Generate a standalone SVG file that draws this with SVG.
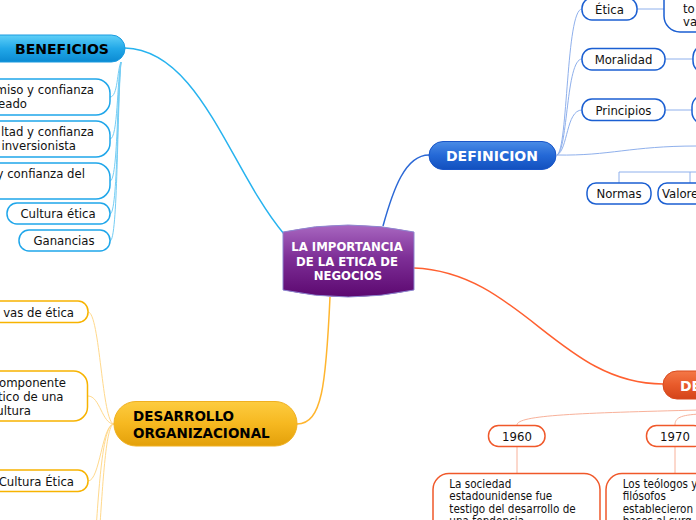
<svg xmlns="http://www.w3.org/2000/svg" width="696" height="520" viewBox="0 0 696 520">
<defs>
<linearGradient id="gC" x1="0" y1="0" x2="0" y2="1"><stop offset="0" stop-color="#a867c0"/><stop offset="0.45" stop-color="#7e2f97"/><stop offset="1" stop-color="#5c0870"/></linearGradient>
<linearGradient id="gB" x1="0" y1="0" x2="0" y2="1"><stop offset="0" stop-color="#5fd0f8"/><stop offset="0.5" stop-color="#22a8e8"/><stop offset="1" stop-color="#0b8ad2"/></linearGradient>
<linearGradient id="gD" x1="0" y1="0" x2="0" y2="1"><stop offset="0" stop-color="#4a8ce6"/><stop offset="0.5" stop-color="#2468d6"/><stop offset="1" stop-color="#1250be"/></linearGradient>
<linearGradient id="gY" x1="0" y1="0" x2="0" y2="1"><stop offset="0" stop-color="#fdcc40"/><stop offset="0.5" stop-color="#f6b820"/><stop offset="1" stop-color="#e3a00a"/></linearGradient>
<linearGradient id="gO" x1="0" y1="0" x2="0" y2="1"><stop offset="0" stop-color="#f47848"/><stop offset="0.5" stop-color="#e85a2a"/><stop offset="1" stop-color="#d4441a"/></linearGradient>
<style>
.t{font-family:"DejaVu Sans Condensed","DejaVu Sans",sans-serif;font-stretch:condensed;fill:#111}
.n{font-size:13px}
.d{font-size:11.6px}
.h{font-family:"DejaVu Sans",sans-serif;font-weight:bold;font-size:14px}
.m{font-size:11.7px}
.c{text-anchor:middle}
.e{text-anchor:end}
.w{fill:#fff}
.k{fill:#000}
.cb{fill:#fff;stroke:#1fa6ea;stroke-width:1.5}
.cd{fill:#fff;stroke:#1b5fd2;stroke-width:1.5}
.cy{fill:#fff;stroke:#f7b300;stroke-width:1.5}
.co{fill:#fff;stroke:#f0582a;stroke-width:1.5}
.lb{fill:none;stroke:#27b3ef;stroke-width:1.5}
.ld{fill:none;stroke:#2b68d6;stroke-width:1.5}
.ly{fill:none;stroke:#ffb52e;stroke-width:1.5}
.lo{fill:none;stroke:#ff6030;stroke-width:1.5}
.sb{fill:none;stroke:#74cdf4;stroke-width:1}
.sd{fill:none;stroke:#8fb0ec;stroke-width:1}
.sy{fill:none;stroke:#ffd98c;stroke-width:1}
.so{fill:none;stroke:#f8b19a;stroke-width:1}
</style>
</defs>
<rect width="696" height="520" fill="#fff"/>
<g id="connectors">
<path class="lb" d="M125,48 C200,50 230,170 284,234"/>
<path class="ld" d="M383,226 C393,190 405,155 429,155"/>
<path class="ly" d="M330,297 C326,385 322,424 297,424"/>
<path class="lo" d="M414,268 C520,272 560,384 663,384"/>
<path class="sb" d="M121,62 C117,70 118,97 110,97"/>
<path class="sb" d="M121,62 C117,80 118,139 110,139"/>
<path class="sb" d="M121,62 C117,90 118,181 110,181"/>
<path class="sb" d="M121,62 C117,100 118,214 110,214"/>
<path class="sb" d="M121,62 C117,110 118,241 110,241"/>
<path class="sd" d="M557,155 C568,150 566,9 582,9"/>
<path class="sd" d="M557,155 C568,150 566,59 582,59"/>
<path class="sd" d="M557,155 C568,150 566,110 582,110"/>
<path class="sd" d="M557,155 C610,156 630,146 697,146"/>
<path class="sd" d="M619,183 V172 H700 M690,172 V183"/>
<path class="sd" d="M637,9 H664 M665,59 H693 M665,110 H692"/>
<path class="sy" d="M114,424 C102,424 100,312 88,312"/>
<path class="sy" d="M114,424 C102,424 100,396 88,396"/>
<path class="sy" d="M114,424 C102,424 100,481 88,481"/>
<path class="sy" d="M114,424 C104,424 100,470 96,530"/>
<path class="sy" d="M114,424 C106,424 103,480 99,540"/>
<path class="so" d="M700,410 C580,413 517,415 517,425"/>
<path class="so" d="M700,414 C680,415 675,418 675,425"/>
<path class="so" d="M517,447 V473 M675,447 V473"/>
</g>
<g id="central">
<path d="M283,232 Q348,218 414,232 L414,290 Q348,304 283,290 Z" fill="url(#gC)" stroke="#8e86d0" stroke-width="1"/>
<text class="h w c m" x="347" y="251">LA IMPORTANCIA</text>
<text class="h w c m" x="347" y="265.5">DE LA ETICA DE</text>
<text class="h w c m" x="348" y="280">NEGOCIOS</text>
</g>
<g id="beneficios">
<rect x="-20" y="35" width="145" height="27" rx="13.5" fill="url(#gB)" stroke="#1a9be0"/>
<text class="h k c" x="62" y="54">BENEFICIOS</text>
</g>
<g id="b1"><rect class="cb" x="-20" y="79" width="130" height="36" rx="14"/><text class="t n e" x="94" y="94">miso y confianza</text><text class="t n e" x="27" y="108">eado</text></g>
<g id="b2"><rect class="cb" x="-20" y="121" width="130" height="36" rx="14"/><text class="t n e" x="94" y="136">ltad y confianza</text><text class="t n e" x="76" y="150">inversionista</text></g>
<g id="b3"><rect class="cb" x="-20" y="163" width="130" height="36" rx="14"/><text class="t n e" x="85" y="178">y confianza del</text></g>
<g id="b4"><rect class="cb" x="7" y="203" width="103" height="21" rx="10"/><text class="t n c" x="58" y="218">Cultura ética</text></g>
<g id="b5"><rect class="cb" x="19" y="230" width="91" height="21" rx="10"/><text class="t n c" x="64" y="245">Ganancias</text></g>
<g id="definicion">
<rect x="429" y="141.5" width="127" height="28" rx="14" fill="url(#gD)" stroke="#1a56c8"/>
<text class="h w c" x="492" y="160.5">DEFINICION</text>
</g>
<g id="d-etica"><rect class="cd" x="582" y="-2" width="55" height="22" rx="10"/><text class="t n c" x="609.5" y="13.5">Ética</text></g>
<g id="d-etica-def"><rect class="cd" x="664" y="-30" width="80" height="62" rx="16"/><text class="t n" x="683" y="13">to</text><text class="t n" x="683" y="26">va</text></g>
<g id="d-moralidad"><rect class="cd" x="582" y="48.5" width="83" height="21.5" rx="10"/><text class="t n c" x="623.5" y="64">Moralidad</text></g>
<g id="d-moralidad-def"><rect class="cd" x="693" y="45" width="60" height="28" rx="12"/></g>
<g id="d-principios"><rect class="cd" x="582" y="99" width="83" height="21.5" rx="10"/><text class="t n c" x="623.5" y="114.5">Principios</text></g>
<g id="d-principios-def"><rect class="cd" x="692" y="95" width="60" height="29" rx="12"/></g>
<g id="d-normas"><rect class="cd" x="587" y="183" width="64" height="21" rx="9"/><text class="t n c" x="619" y="198">Normas</text></g>
<g id="d-valores"><rect class="cd" x="658" y="183" width="64" height="21" rx="9"/><text class="t n" x="662" y="198">Valores</text></g>
<g id="desarrollo">
<rect x="114" y="401.5" width="183" height="44.5" rx="22" fill="url(#gY)" stroke="#f0b020"/>
<text class="h k" style="font-size:13.5px" x="133" y="421">DESARROLLO</text>
<text class="h k" style="font-size:13.5px" x="133" y="438">ORGANIZACIONAL</text>
</g>
<g id="y1"><rect class="cy" x="-20" y="301" width="108" height="21.5" rx="10"/><text class="t n e" x="74" y="316.5">vas de ética</text></g>
<g id="y2"><rect class="cy" x="-20" y="371" width="107.5" height="50" rx="14"/><text class="t n e" x="66" y="386.5">omponente</text><text class="t n e" x="63.5" y="401">tico de una</text><text class="t n e" x="31" y="415">ultura</text></g>
<g id="y3"><rect class="cy" x="-20" y="470" width="108" height="21.5" rx="10"/><text class="t n e" x="74" y="485.5">Cultura Ética</text></g>
<g id="desarrollo-hist">
<rect x="663" y="371" width="80" height="28" rx="14" fill="url(#gO)" stroke="#d84a1e"/>
<text class="h w" x="680" y="390.5">DE</text>
</g>
<g id="o1960"><rect class="co" x="488.5" y="425.5" width="56.5" height="21" rx="10"/><text class="t n c" x="517" y="441">1960</text></g>
<g id="o1970"><rect class="co" x="646.5" y="425.5" width="57" height="21" rx="10"/><text class="t n c" x="675" y="441">1970</text></g>
<g id="o1960-desc"><rect class="co" x="433" y="473.5" width="167" height="70" rx="16"/>
<text class="t d" x="449.3" y="487.7">La sociedad</text><text class="t d" x="449.3" y="500.3">estadounidense fue</text><text class="t d" x="449.3" y="512.7">testigo del desarrollo de</text><text class="t d" x="449.3" y="525">una tendencia</text></g>
<g id="o1970-desc"><rect class="co" x="606" y="473.5" width="120" height="70" rx="16"/>
<text class="t d" x="622.7" y="487.7">Los teólogos y</text><text class="t d" x="622.7" y="500.3">filósofos</text><text class="t d" x="622.7" y="512.7">establecieron</text><text class="t d" x="622.7" y="525">bases al surg</text></g>
</svg>
